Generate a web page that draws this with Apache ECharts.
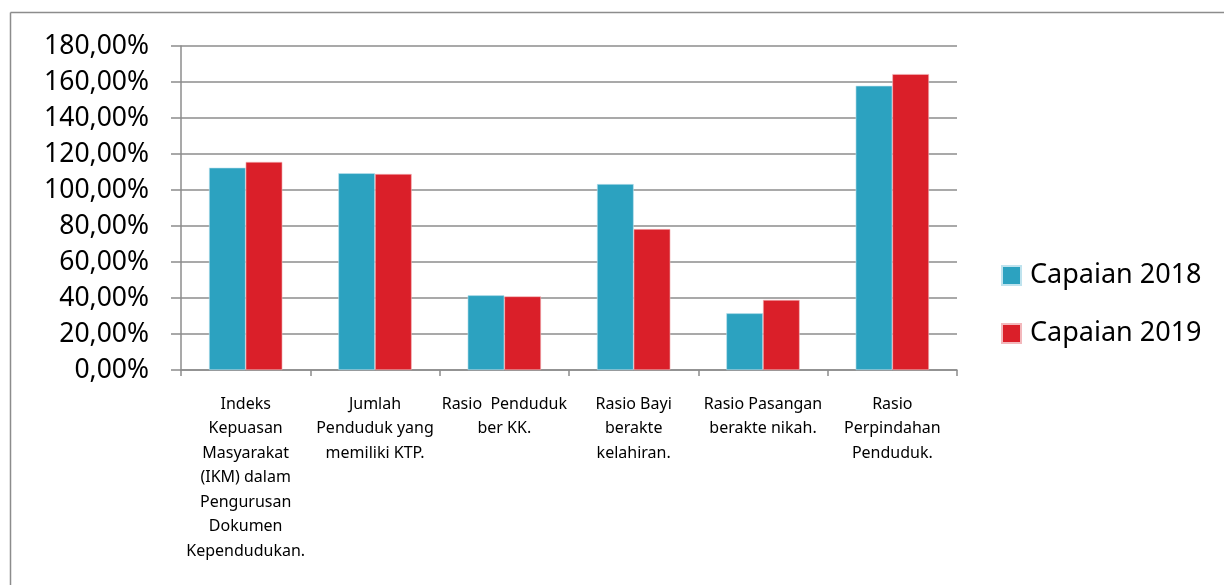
<!DOCTYPE html>
<html>
<head>
<meta charset="utf-8">
<script src="https://cdn.jsdelivr.net/npm/echarts@6/dist/echarts.min.js"></script>
<style>
html,body{margin:0;padding:0;background:#fff;}
#c{width:1224px;height:585px;}
</style>
</head>
<body>
<div id="c"></div>
<script>
const categories = [
  "Indeks\nKepuasan\nMasyarakat\n(IKM) dalam\nPengurusan\nDokumen\nKependudukan.",
  "Jumlah\nPenduduk yang\nmemiliki KTP.",
  "Rasio  Penduduk\nber KK.",
  "Rasio Bayi\nberakte\nkelahiran.",
  "Rasio Pasangan\nberakte nikah.",
  "Rasio\nPerpindahan\nPenduduk."
];
const seriesNames = ["Capaian 2018", "Capaian 2019"];
const capaian2018 = [112.4, 109.3, 41.5, 103.3, 31.5, 157.9];
const capaian2019 = [115.6, 108.9, 40.9, 78.3, 38.9, 164.4];

const chart = echarts.init(document.getElementById('c'), null, {renderer: 'canvas'});
const font = 'Noto Sans';
chart.setOption({
  animation: false,
  backgroundColor: '#fff',
  textStyle: {fontFamily: font},
  graphic: [
    {type: 'line', shape: {x1: 10.5, y1: 12.5, x2: 1224, y2: 12.5}, style: {stroke: '#8c8c8c', lineWidth: 1.5}},
    {type: 'line', shape: {x1: 10.5, y1: 12.5, x2: 10.5, y2: 585}, style: {stroke: '#8c8c8c', lineWidth: 1.5}}
  ],
  grid: {left: 181, top: 46, width: 776, height: 324, containLabel: false},
  legend: {
    orient: 'vertical',
    left: 996,
    top: 257,
    itemWidth: 19,
    itemHeight: 19,
    itemGap: 31,
    icon: 'rect',
    textStyle: {fontSize: 27, color: '#000', fontFamily: font, padding: [0, 0, 0, 4]},
    data: seriesNames
  },
  xAxis: {
    type: 'category',
    data: categories,
    axisLine: {lineStyle: {color: '#8c8c8c', width: 1.5}},
    axisTick: {show: true, length: 6, alignWithLabel: false, lineStyle: {color: '#8c8c8c', width: 1.5}},
    axisLabel: {
      interval: 0,
      fontSize: 16,
      lineHeight: 24.5,
      color: '#000',
      margin: 22,
      fontFamily: font,
      align: 'center'
    }
  },
  yAxis: {
    type: 'value',
    min: 0,
    max: 180,
    interval: 20,
    axisLine: {show: true, lineStyle: {color: '#8c8c8c', width: 1.5}},
    axisTick: {show: true, length: 10, lineStyle: {color: '#8c8c8c', width: 1.5}},
    splitLine: {lineStyle: {color: '#8c8c8c', width: 1.5}},
    axisLabel: {
      fontSize: 26.5,
      color: '#000',
      margin: 32,
      fontFamily: font,
      padding: [0, 0, 8, 0],
      formatter: v => v.toFixed(2).replace('.', ',') + '%'
    }
  },
  series: [
    {
      name: seriesNames[0], type: 'bar', data: capaian2018,
      barGap: '0%', barCategoryGap: '43.3%',
      itemStyle: {color: '#2CA2C0', borderColor: '#bfe3ee', borderWidth: 0.6}
    },
    {
      name: seriesNames[1], type: 'bar', data: capaian2019,
      barGap: '0%', barCategoryGap: '43.3%',
      itemStyle: {color: '#DA1F29', borderColor: '#f3b8bc', borderWidth: 0.6}
    }
  ]
});
</script>
</body>
</html>
